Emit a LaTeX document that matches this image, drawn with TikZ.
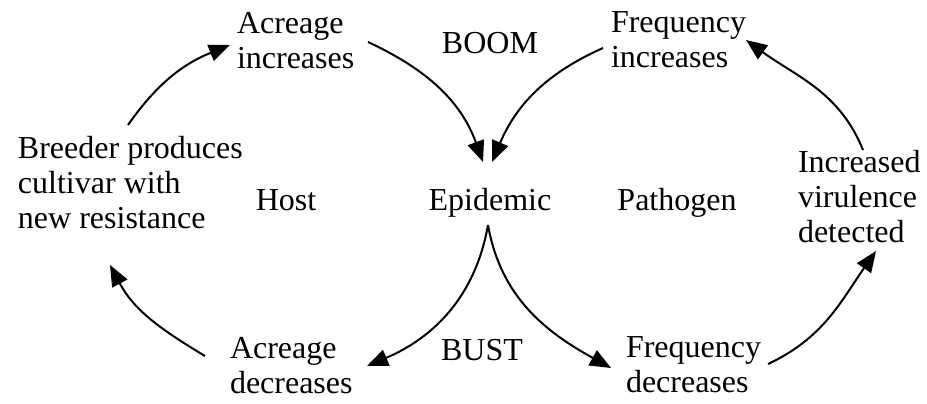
\documentclass[tikz,border=0pt]{standalone}
\usepackage{fontspec}
\setmainfont{Liberation Serif}
\usetikzlibrary{arrows.meta,calc}
\begin{document}
\begin{tikzpicture}[x=0.5pt,y=0.5pt,
  lbl/.style={inner sep=0pt,outer sep=0pt,font=\fontsize{16pt}{17.5pt}\selectfont},
  lblL/.style={lbl,align=left,anchor=base west},
  lblC/.style={lbl,anchor=base},
  flow/.style={line width=1pt,-{Triangle[length=10.5pt,width=8.5pt]}}]
\useasboundingbox (0,0) rectangle (927,403);
\node[lblL] (acinc) at (237,335) {Acreage\\increases};
\node[lblC] (boom) at (490,350) {BOOM};
\node[lblL] (freqinc) at (611,336) {Frequency\\increases};
\node[lblL] (breeder) at (18,175) {Breeder produces\\cultivar with\\new resistance};
\node[lblC] (host) at (286,193) {Host};
\node[lblC] (epi) at (490,193) {Epidemic};
\node[lblC] (path) at (677,193) {Pathogen};
\node[lblL] (virul) at (798,161) {Increased\\virulence\\detected};
\node[lblL] (acdec) at (230,10) {Acreage\\decreases};
\node[lblC] (bust) at (482,43) {BUST};
\node[lblL] (freqdec) at (626,11) {Frequency\\decreases};

\draw[flow] ($(breeder.base west)+(110,103)$) to[out=55,in=202] ($(acinc.base west)+(-7,23)$);
\draw[flow] ($(acinc.base west)+(131,26)$) to[out=-25,in=110] ($(epi.base)+(-7,48)$);
\draw[flow] ($(freqinc.base west)+(-8,19)$) to[out=204,in=67] ($(epi.base)+(2,48)$);
\draw[flow] ($(virul.base west)+(65,92)$) to[out=112,in=-36] ($(freqinc.base west)+(135,27)$);
\draw[flow] ($(epi.base)+(-2,-15)$) to[out=260,in=23] ($(acdec.base west)+(137,27)$);
\draw[flow] ($(epi.base)+(-2,-15)$) to[out=-80,in=151] ($(freqdec.base west)+(-15,24)$);
\draw[flow] ($(freqdec.base west)+(142,28)$) to[out=25,in=235] ($(virul.base west)+(78,-9)$);
\draw[flow] ($(acdec.base west)+(-25,37)$) to[out=149,in=-62] ($(breeder.base west)+(92,-37)$);
\end{tikzpicture}
\end{document}
